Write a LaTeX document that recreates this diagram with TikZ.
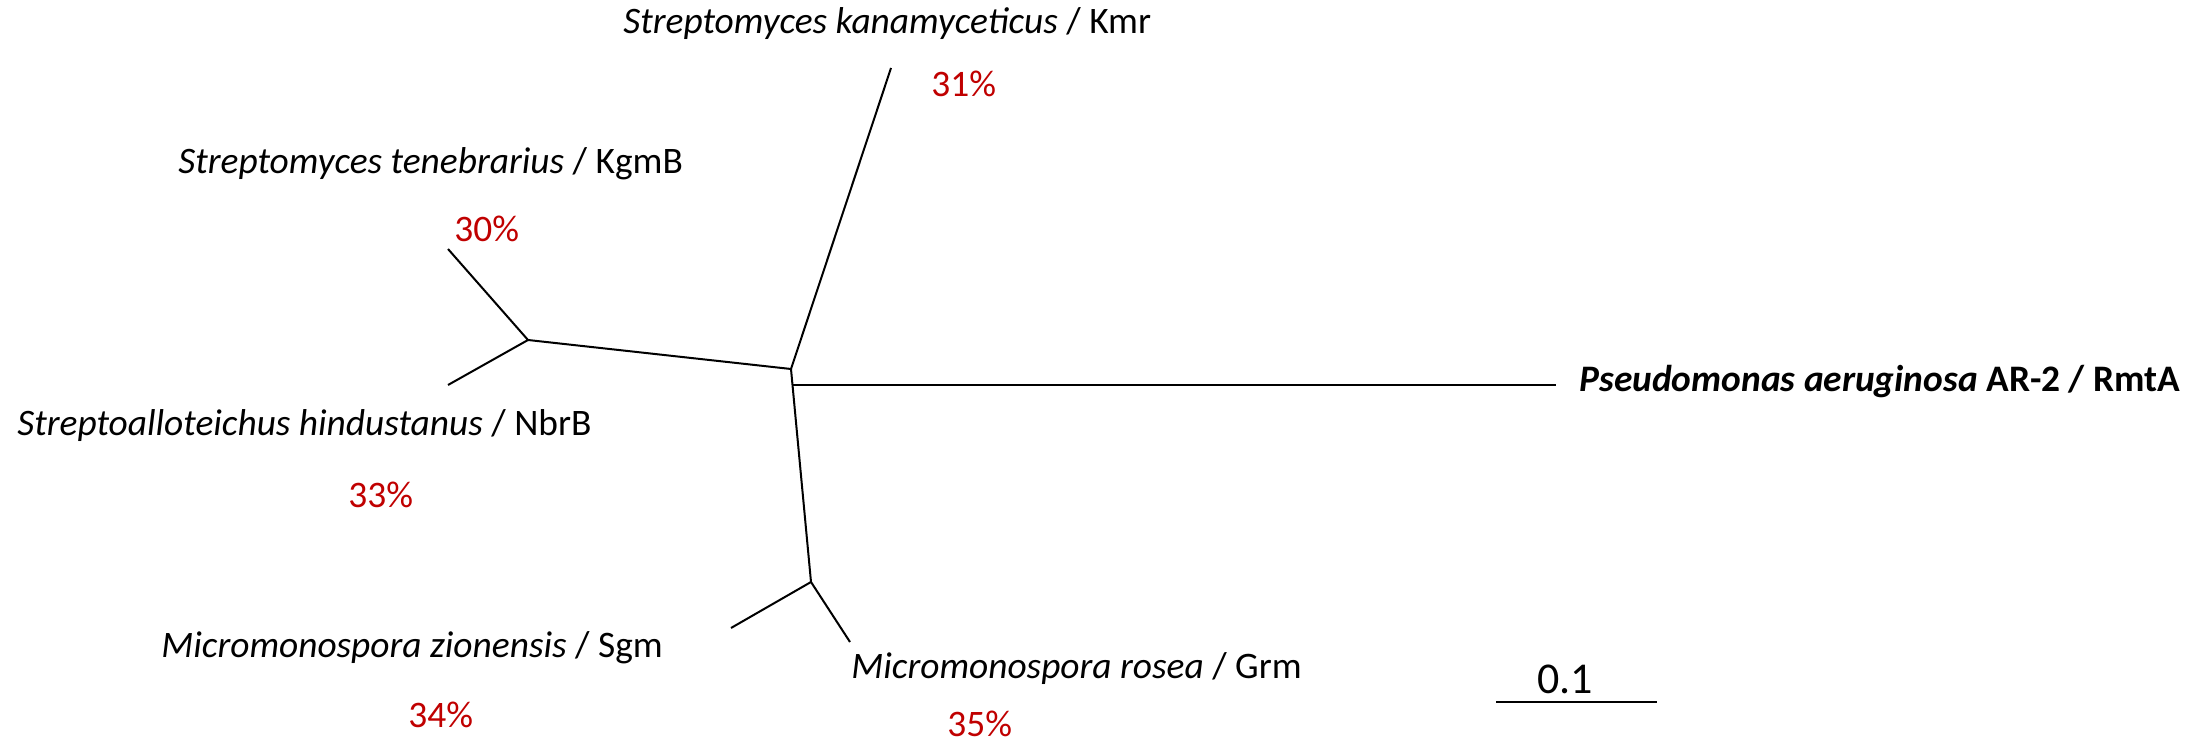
\documentclass[tikz,border=0pt]{standalone}
\usepackage{fontspec}
\setmainfont{Carlito}
\definecolor{pctred}{RGB}{192,0,0}
\begin{document}
\begin{tikzpicture}[x=0.5pt,y=-0.5pt,
  branch/.style={line width=1pt,black},
  taxon/.style={font=\fontsize{18.7}{22}\selectfont,inner sep=0pt,anchor=base west},
  pct/.style={taxon,text=pctred}]
\useasboundingbox (0,0) rectangle (2201,742);

% tree topology: tips and internal nodes
\coordinate (C)   at (791,369);
\coordinate (R0)  at (792.5,385);
\coordinate (L)   at (528,340);
\coordinate (B)   at (811,582);
\coordinate (kmr) at (891,68);
\coordinate (kgm) at (448,249);
\coordinate (nbr) at (448,385);
\coordinate (sgm) at (731,628);
\coordinate (grm) at (850,642);
\coordinate (rmt) at (1556,385);

\draw[branch] (C) -- (kmr);
\draw[branch] (C) -- (L);
\draw[branch] (L) -- (kgm);
\draw[branch] (L) -- (nbr);
\draw[branch] (C) -- (B);
\draw[branch] (B) -- (sgm);
\draw[branch] (B) -- (grm);
\draw[branch] (R0) -- (rmt);

% taxon labels and identities
\node[taxon] (tkmr) at (623,34)  {\textit{Streptomyces kanamyceticus} / Kmr};
\node[pct]   (pkmr) at (931,97)  {31\%};
\node[taxon] (tkgm) at (178,174) {\textit{Streptomyces tenebrarius} / KgmB};
\node[pct]   (pkgm) at (454,242) {30\%};
\node[taxon] (tnbr) at (17,436)  {\textit{Streptoalloteichus hindustanus} / NbrB};
\node[pct]   (pnbr) at (348,508) {33\%};
\node[taxon] (tsgm) at (161,658) {\textit{Micromonospora zionensis} / Sgm};
\node[pct]   (psgm) at (408,727) {34\%};
\node[taxon] (tgrm) at (851,678) {\textit{Micromonospora rosea} / Grm};
\node[pct]   (pgrm) at (947,736) {35\%};
\node[taxon,font=\fontsize{18.7}{22}\selectfont\bfseries] (trmt) at (1579,392)
  {\textit{Pseudomonas aeruginosa} AR-2 / RmtA};

% scale bar
\coordinate (s1) at (1496,702);
\coordinate (s2) at (1657,702);
\draw[branch] (s1) -- (s2);
\node[taxon,font=\fontsize{22}{26}\selectfont] (sbar) at (1537,693) {0.1};
\end{tikzpicture}
\end{document}
